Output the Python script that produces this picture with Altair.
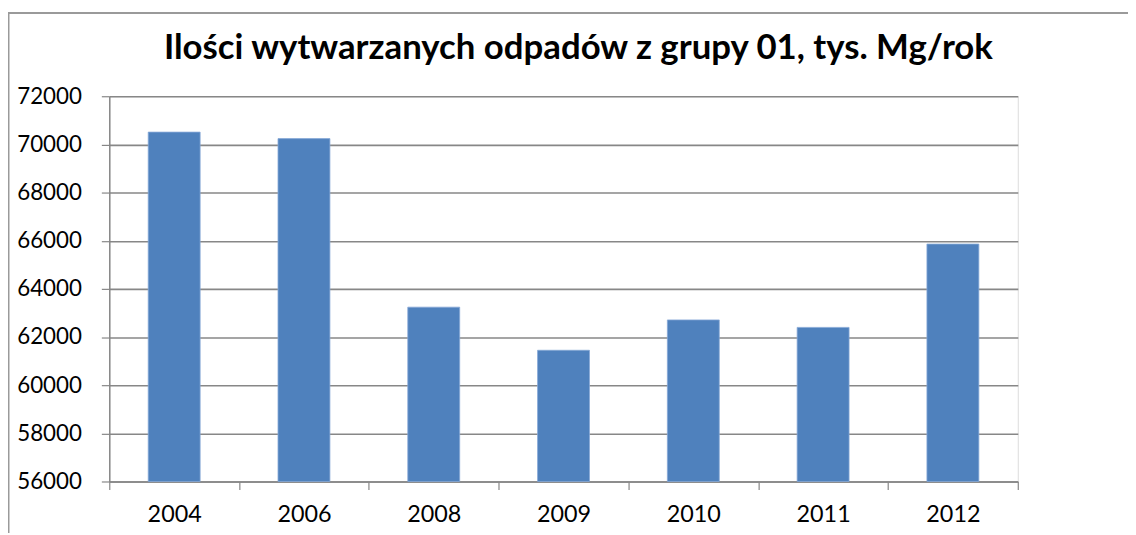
import altair as alt
import pandas as pd

years = ["2004", "2006", "2008", "2009", "2010", "2011", "2012"]
values = [70510, 70240, 63240, 61450, 62710, 62400, 65860]
y_ticks = [56000, 58000, 60000, 62000, 64000, 66000, 68000, 70000, 72000]
y_min, y_max = 56000, 72000
title_text = "Ilości wytwarzanych odpadów z grupy 01, tys. Mg/rok"

df = pd.DataFrame({"year": years, "value": values})

W, H = 915, 388
GRAY = "#878787"
FONT = "Lato"

bars = alt.Chart(df).mark_bar(
    color="#4F81BD", width=alt.RelativeBandSize(0.4), stroke="#86a8d6", strokeWidth=0.8
).encode(
    x=alt.X("year:N", sort=years,
            scale=alt.Scale(paddingInner=0, paddingOuter=0),
            axis=alt.Axis(title=None, labelAngle=0, tickBand="extent", tickSize=8,
                          labelPadding=13, labelFontSize=23.5, labelFont=FONT,
                          labelColor="#000000", domainColor=GRAY, tickColor=GRAY,
                          domainWidth=1.5, tickWidth=1.2)),
    y=alt.Y("value:Q",
            scale=alt.Scale(domain=[y_min, y_max], nice=False, zero=False),
            axis=alt.Axis(title=None, values=y_ticks, format="d", tickSize=8,
                          labelPadding=20, labelFontSize=22.5, labelFont=FONT,
                          labelColor="#000000", domainColor=GRAY, tickColor=GRAY,
                          gridColor=GRAY, gridWidth=1.6, grid=True,
                          domainWidth=1.5, tickWidth=1.2)),
    y2=alt.datum(y_min),
)

border_top = alt.Chart(df).mark_rule(color="#9a9a9a", strokeWidth=1.2).encode(
    x=alt.value(-102), x2=alt.value(1030), y=alt.value(-84)
)
border_left = alt.Chart(df).mark_rule(color="#9a9a9a", strokeWidth=1.2).encode(
    x=alt.value(-101.5), y=alt.value(-84), y2=alt.value(460)
)

chart = alt.layer(border_top, border_left, bars).properties(
    width=W, height=H,
    title=alt.TitleParams(title_text, font=FONT, fontSize=35, fontWeight="bold",
                          color="#000000", anchor="middle", frame="group",
                          baseline="alphabetic", offset=-82, dx=15),
    autosize=alt.AutoSizeParams(type="none"),
    padding={"left": 102, "top": 87, "right": 111, "bottom": 50},
).configure_view(stroke=None).configure(background="white")

chart.save("out.html", embed_options={"renderer": "svg", "actions": False})
